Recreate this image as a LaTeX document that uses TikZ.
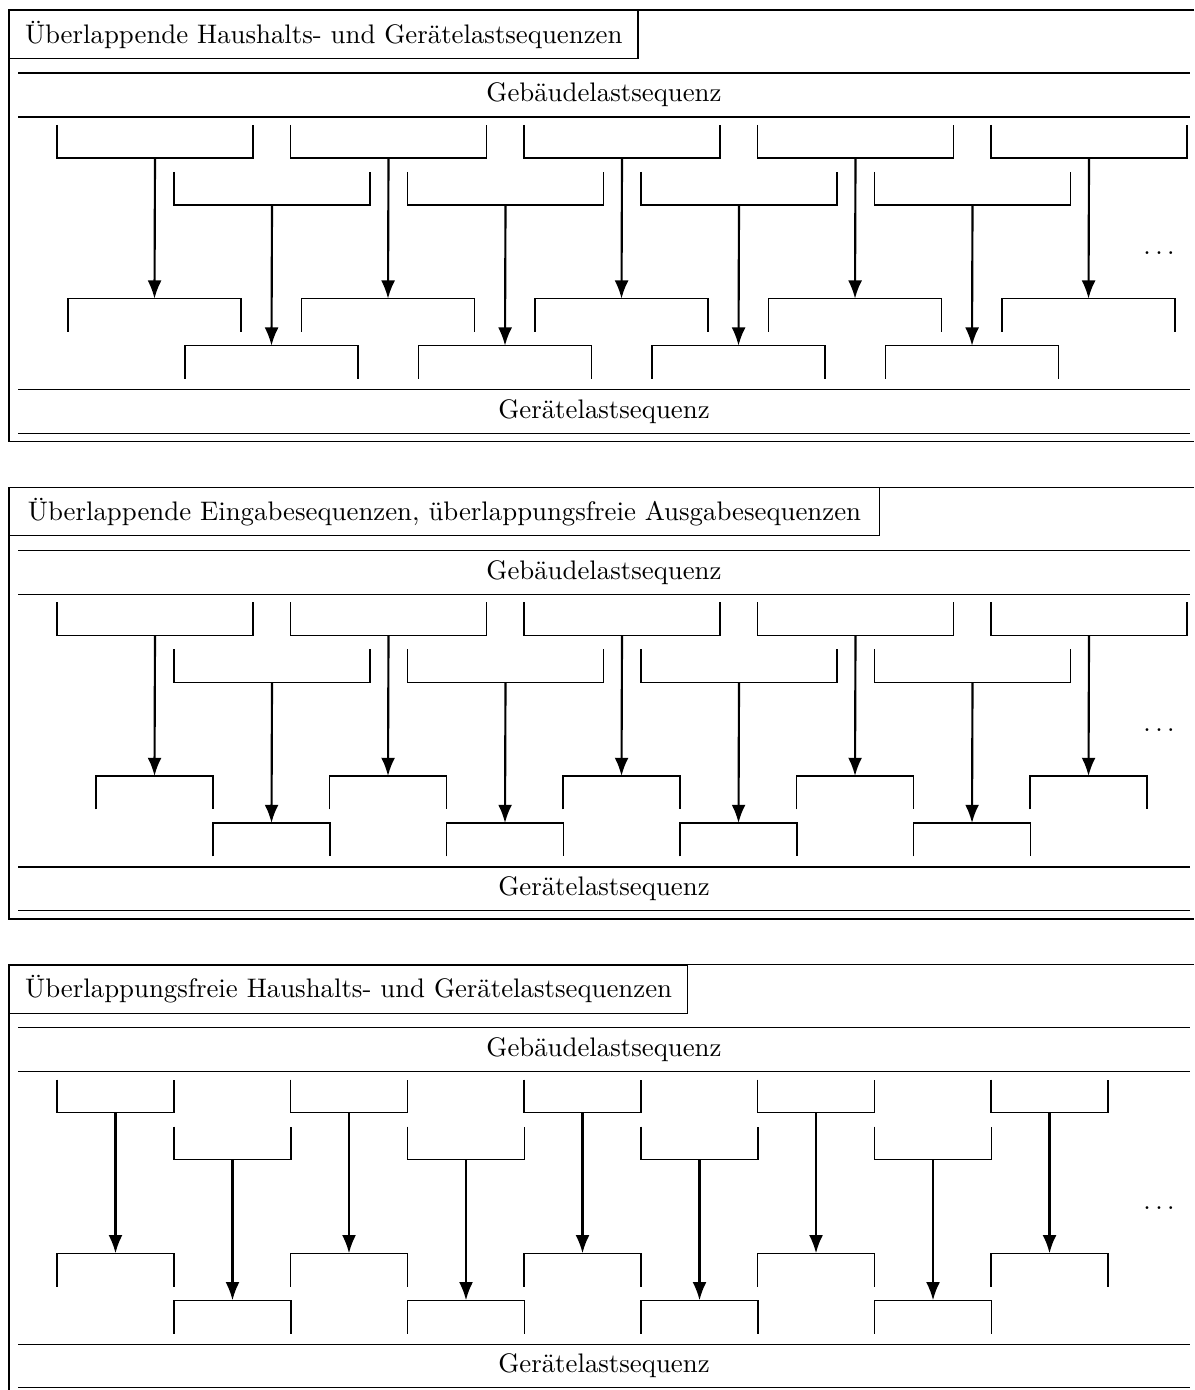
\documentclass[tikz,border=0pt]{standalone}
\usepackage{fontspec}
\usetikzlibrary{arrows.meta}
\begin{document}
\begin{tikzpicture}[x=0.373pt,y=-0.373pt,
  frameline/.style={line width=0.4pt},
  bracket/.style={line width=0.4pt},
  arr/.style={line width=0.8pt,-{Latex[length=6.8pt,width=5.2pt]}},
  titlebox/.style={draw, line width=0.4pt, anchor=north west, minimum height=17.9pt, inner sep=0pt},
  seqtext/.style={inner sep=0pt}]
\useasboundingbox (0,0) rectangle (1194,1390);

% titles
\node[titlebox, minimum width=234.4pt] (title1) at (9,10) {Überlappende Haushalts- und Gerätelastsequenzen};
\node[titlebox, minimum width=324.5pt] (title2) at (9,487.3) {Überlappende Eingabesequenzen, überlappungsfreie Ausgabesequenzen};
\node[titlebox, minimum width=253.0pt] (title3) at (9,964.6) {Überlappungsfreie Haushalts- und Gerätelastsequenzen};

% frames, sequence bands, dots
\foreach \p/\o in {1/0,2/477.3,3/954.6}{
  \draw[frameline] (1194,\o+10) -- (9,\o+10) -- (9,\o+441.7) -- (1194,\o+441.7);
  \draw[frameline] (18,\o+73) -- (1190,\o+73);
  \draw[frameline] (18,\o+117) -- (1190,\o+117);
  \node[seqtext] (geb\p) at (604,\o+95) {Gebäudelastsequenz};
  \draw[frameline] (18,\o+389.7) -- (1190,\o+389.7);
  \draw[frameline] (18,\o+433.3) -- (1190,\o+433.3);
  \node[seqtext] (ger\p) at (604,\o+411.5) {Gerätelastsequenz};
  \node[seqtext] (dots\p) at (1159,\o+253) {$\ldots$};
}

% brackets and arrows
\foreach \p/\o/\tw/\bw/\ba in {1/0/196/173/68, 2/477.3/196/117/96, 3/954.6/117/117/57}{
  % row 1 (5 brackets)
  \foreach \k in {0,...,4}{
    \pgfmathsetmacro\tl{57+\k*233.5}
    \pgfmathsetmacro\tr{\tl+\tw}
    \pgfmathsetmacro\tc{\tl+\tw/2}
    \pgfmathsetmacro\bl{\ba+\k*233.5}
    \pgfmathsetmacro\br{\bl+\bw}
    \pgfmathsetmacro\bc{\bl+\bw/2}
    \draw[bracket] (\tl,\o+125) -- (\tl,\o+158) -- (\tr,\o+158) -- (\tr,\o+125);
    \draw[bracket] (\bl,\o+332) -- (\bl,\o+298.7) -- (\br,\o+298.7) -- (\br,\o+332);
    \coordinate (A\p-\k) at (\tc,\o+158);
    \coordinate (C\p-\k) at (\bc,\o+298.7);
    \draw[arr] (A\p-\k) -- (C\p-\k);
  }
  % row 2 (4 brackets)
  \foreach \k in {0,...,3}{
    \pgfmathsetmacro\tl{174+\k*233.5}
    \pgfmathsetmacro\tr{\tl+\tw}
    \pgfmathsetmacro\tc{\tl+\tw/2}
    \pgfmathsetmacro\bl{\ba+117+\k*233.5}
    \pgfmathsetmacro\br{\bl+\bw}
    \pgfmathsetmacro\bc{\bl+\bw/2}
    \draw[bracket] (\tl,\o+172) -- (\tl,\o+205) -- (\tr,\o+205) -- (\tr,\o+172);
    \draw[bracket] (\bl,\o+379) -- (\bl,\o+345.7) -- (\br,\o+345.7) -- (\br,\o+379);
    \coordinate (B\p-\k) at (\tc,\o+205);
    \coordinate (D\p-\k) at (\bc,\o+345.7);
    \draw[arr] (B\p-\k) -- (D\p-\k);
  }
}
\end{tikzpicture}
\end{document}
